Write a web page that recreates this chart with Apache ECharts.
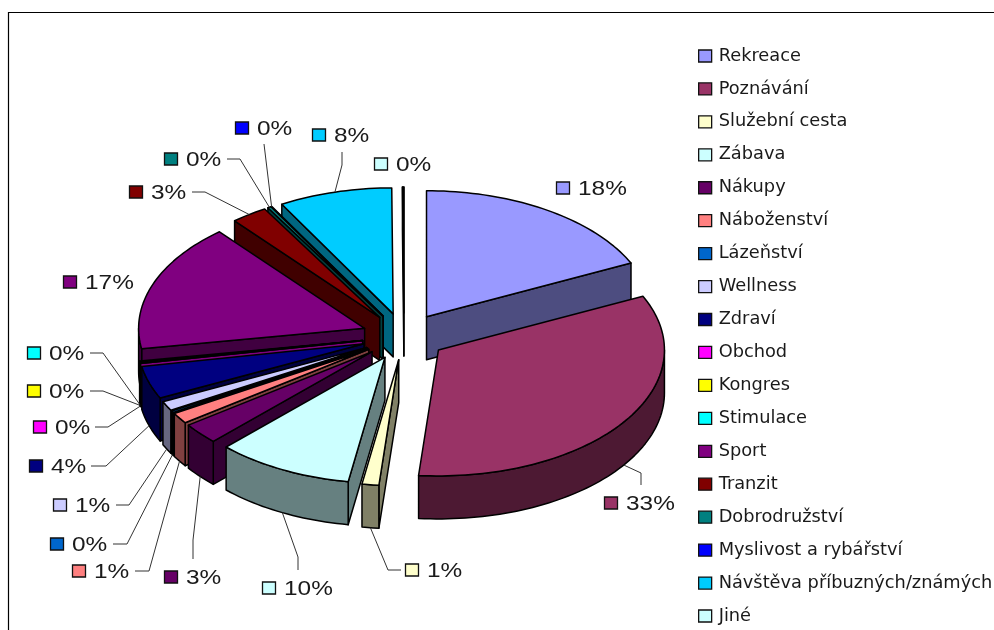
<!DOCTYPE html>
<html>
<head>
<meta charset="utf-8">
<style>html,body{margin:0;padding:0;background:#fff}#c{width:994px;height:630px}</style>
<script src="https://cdn.jsdelivr.net/npm/echarts@6/dist/echarts.min.js"></script>
</head>
<body>
<div id="c"></div>
<script>
const categories = ['Rekreace','Poznávání','Služební cesta','Zábava','Nákupy','Náboženství','Lázeňství','Wellness','Zdraví','Obchod','Kongres','Stimulace','Sport','Tranzit','Dobrodružství','Myslivost a rybářství','Návštěva příbuzných/známých','Jiné'];
const values = [18.0,33.4,1.2,9.8,2.7,1.4,0.2,1.2,4.2,0.1,0.05,0.15,16.5,2.6,0.25,0.05,8.1,0.1];
const colors = ['#9999FF','#993366','#FFFFCC','#CCFFFF','#660066','#FF8080','#0066CC','#CCCCFF','#000080','#FF00FF','#FFFF00','#00FFFF','#800080','#800000','#008080','#0000FF','#00CCFF','#CCFFFF'];
const wallColors = ['#4D4D80','#4D1933','#808066','#668080','#330033','#804040','#003366','#666680','#000040','#800080','#808000','#008080','#400040','#400000','#004040','#000080','#006680','#668080'];
// label key square left x / centre y, text x, and leader elbows (drawing layout only)
const labelLayout = [
  {x:556,y:188},{x:604,y:503,elbow:[[641,473],[641,485]]},{x:405,y:570,elbow:[[388,570],[401,570]]},
  {x:262,y:588,elbow:[[298,557],[298,570]]},{x:164,y:577,elbow:[[193,540],[193,559]]},
  {x:72,y:571,elbow:[[149,571],[135,571]]},{x:50,y:544,elbow:[[127,544],[113,544]]},
  {x:53,y:505,elbow:[[129,505],[116,505]]},{x:29,y:466,elbow:[[106,466],[91,466]]},
  {x:33,y:427,elbow:[[108,427],[95,427]]},{x:27,y:391,elbow:[[103,391],[90,391]]},
  {x:27,y:353,elbow:[[103,353],[90,353]]},{x:63,y:282},{x:129,y:192,elbow:[[205,192],[192,192]]},
  {x:164,y:159,elbow:[[240,159],[227,159]]},{x:235,y:128,elbow:[[264,144]]},
  {x:312,y:135,elbow:[[342,165],[342,152]]},{x:374,y:164}
];
const pie = {cx:404, cy:336.5, rx:226, ry:126, explode:42, depth:43};
const total = values.reduce((a,b)=>a+b,0);
const starts = []; let acc = 0;
values.forEach(v=>{starts.push(acc/total*360); acc+=v;});
const rad = d=>d*Math.PI/180;
const mids = values.map((v,i)=>starts[i]+v/total*180);
// paint back to front
const rank = values.map((_,i)=>i).sort((a,b)=>Math.cos(rad(mids[b]))-Math.cos(rad(mids[a])));
const LINE = '#000';

function renderSlice(params, api){
  const i = params.seriesIndex;
  const a0 = api.value(0), a1 = api.value(1), mid=(a0+a1)/2;
  const ax = pie.cx + pie.explode*Math.sin(rad(mid));
  const ay = pie.cy - pie.explode*pie.ry/pie.rx*Math.cos(rad(mid));
  const rim = t=>[ax+pie.rx*Math.sin(rad(t)), ay-pie.ry*Math.cos(rad(t))];
  const arc = (s,e)=>{const n=Math.max(1,Math.ceil((e-s)/1.5)),o=[];for(let k=0;k<=n;k++)o.push(rim(s+(e-s)*k/n));return o;};
  const down = p=>[p[0],p[1]+pie.depth];
  const st = {fill:wallColors[i],stroke:LINE,lineWidth:1.5,lineJoin:'round'};
  const z = rank.indexOf(i)*3;
  const kids = [];
  const radial = t=>{const r=rim(t);kids.push({type:'polygon',z2:z,shape:{points:[[ax,ay],r,down(r),[ax,ay+pie.depth]]},style:st});};
  const sA=Math.sin(rad(a0)), sB=Math.sin(rad(a1));
  if(sA<0) radial(a0);
  if(sB>0) radial(a1);
  const l=Math.max(a0,90), h=Math.min(a1,270);
  if(h>l){const top=arc(l,h);kids.push({type:'polygon',z2:z+1,shape:{points:top.concat(top.slice().reverse().map(down))},style:st});}
  kids.push({type:'polygon',z2:z+2,shape:{points:[[ax,ay]].concat(arc(a0,a1))},style:{fill:colors[i],stroke:LINE,lineWidth:1.5,lineJoin:'round'}});
  const L = labelLayout[i];
  if(L.elbow){
    const r=rim(mid), front=Math.cos(rad(mid))<0;
    const anchor=front?down(r):r;
    kids.push({type:'polyline',z2:200,shape:{points:[anchor].concat(L.elbow)},style:{fill:null,stroke:'#333',lineWidth:1}});
  }
  kids.push({type:'rect',z2:201,shape:{x:L.x+0.5,y:L.y-6,width:13,height:12},style:{fill:colors[i],stroke:'#111',lineWidth:1.3}});
  kids.push({type:'text',z2:201,x:L.x+22,y:L.y+1,scaleX:1.22,style:{text:Math.round(values[i])+'%',x:0,y:0,fill:'#1a1a1a',font:'20px "Liberation Sans"',textAlign:'left',textVerticalAlign:'middle'}});
  return {type:'group',children:kids};
}

const chart = echarts.init(document.getElementById('c'),null,{renderer:'canvas'});
chart.setOption({
  animation:false,
  backgroundColor:'#fff',
  graphic:[{type:'rect',silent:true,z:-1,shape:{x:8.5,y:12.5,width:1000,height:700},style:{fill:'#fff',stroke:'#000',lineWidth:1.2}}],
  legend:{
    orient:'vertical',left:698,top:46,itemWidth:13,itemHeight:12,itemGap:12.94,
    data:categories,selectedMode:false,icon:'rect',padding:0,
    itemStyle:{borderColor:'#111',borderWidth:1.3},
    textStyle:{color:'#1a1a1a',fontFamily:'DejaVu Sans',fontSize:17.8,lineHeight:20,padding:[0,0,0,2]}
  },
  series:categories.map((name,i)=>({
    name,type:'custom',coordinateSystem:'none',silent:true,
    itemStyle:{color:colors[i]},
    renderItem:renderSlice,
    encode:{value:[0,1]},
    data:[[starts[i],starts[i]+values[i]/total*360]]
  }))
});
</script>
</body>
</html>
